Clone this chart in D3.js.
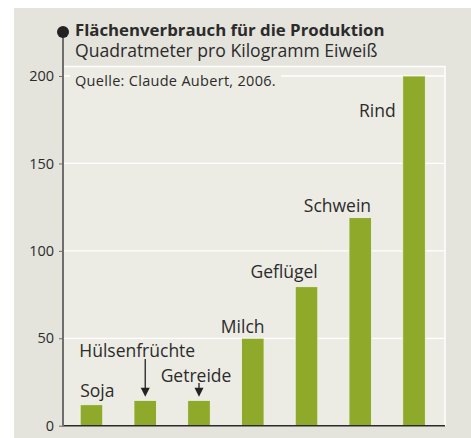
<!DOCTYPE html>
<html><head><meta charset="utf-8">
<script src="https://cdn.jsdelivr.net/npm/d3@7/dist/d3.min.js"></script>
<style>body{margin:0;background:#fff}svg{display:block}text{font-family:"Open Sans",sans-serif;fill:#2b2b2b}</style>
</head><body><svg id="c" width="471" height="438"></svg>
<script>
const categories = ["Soja","Hülsenfrüchte","Getreide","Milch","Geflügel","Schwein","Rind"];
const values = [12, 14.5, 14.5, 50, 79.5, 119, 200];
const yTicks = [0, 50, 100, 150, 200];
const title = "Flächenverbrauch für die Produktion";
const subtitle = "Quadratmeter pro Kilogramm Eiweiß";
const source = "Quelle: Claude Aubert, 2006.";

const svg = d3.select("#c");
const L = 63, R = 445, T = 66.5, B = 425.7;
svg.append("rect").attr("x",14).attr("y",8).attr("width",457).attr("height",430).attr("fill","#e4e3dc");
svg.append("rect").attr("x",L).attr("y",T).attr("width",R-L).attr("height",B-T).attr("fill","#ecebe4");
svg.append("path").attr("d",`M${L},${T}H${R}V${B}`).attr("fill","none").attr("stroke","#fff").attr("stroke-width",1.5);

const y = d3.scaleLinear().domain([0,200]).range([B,76]);
const x = d3.scaleBand().domain(categories).range([64.6,440.9]).paddingInner(0.58).paddingOuter(0.29);

// grid
svg.append("g").selectAll("line").data(yTicks.filter(d=>d>0)).join("line")
  .attr("x1",L).attr("x2",R).attr("y1",d=>y(d)).attr("y2",d=>y(d)).attr("stroke","#fff").attr("stroke-width",1.3);

// source with background box
const src = svg.append("text").attr("x",75).attr("y",85.5).attr("font-size",14.5).attr("letter-spacing",0.3).text(source);
const bb = src.node().getBBox();
svg.insert("rect","text").attr("x",70).attr("y",70).attr("width",bb.width+10).attr("height",20).attr("fill","#ecebe4");

// bars
svg.append("g").selectAll("rect").data(categories).join("rect")
  .attr("x",d=>x(d)).attr("width",x.bandwidth())
  .attr("y",(d,i)=>y(values[i])).attr("height",(d,i)=>B-y(values[i]))
  .attr("fill","#8faa2b").attr("stroke","#f4f4ee").attr("stroke-width",0.8);

// baseline
svg.append("line").attr("x1",L).attr("x2",R).attr("y1",B).attr("y2",B).attr("stroke","#2b2b2b").attr("stroke-width",1.6);

// y axis
const ax = svg.append("g").attr("transform",`translate(${L},0)`).call(d3.axisLeft(y).tickValues(yTicks).tickSize(4).tickPadding(5));
ax.select(".domain").remove();
ax.selectAll(".tick line").attr("stroke","#6e6e6e");
ax.selectAll(".tick text").attr("font-size",14.5).attr("fill","#2b2b2b").style("font-family","'Open Sans',sans-serif");
svg.append("line").attr("x1",L).attr("x2",L).attr("y1",32).attr("y2",B+0.8).attr("stroke","#6e6e6e").attr("stroke-width",2);
svg.append("circle").attr("cx",L).attr("cy",32).attr("r",6).attr("fill","#222");

// titles
svg.append("text").attr("x",75).attr("y",36).attr("font-size",16.8).attr("font-weight","bold").text(title);
svg.append("text").attr("x",75).attr("y",57).attr("font-size",17.6).text(subtitle);

// bar labels: anchor, reference point on bar, x offset, y offset from bar top
const labelPos = [
  {a:"start", ref:"left", dx:0, dy:-8},
  {a:"middle", ref:"mid", dx:-8, dy:-43.6},
  {a:"middle", ref:"mid", dx:-3, dy:-18.6},
  {a:"end", ref:"right", dx:0.5, dy:-5.7},
  {a:"end", ref:"right", dx:0, dy:-8.7},
  {a:"end", ref:"right", dx:-0.5, dy:-5.6},
  {a:"end", ref:"left", dx:-7, dy:40.6}
];
categories.forEach((c,i)=>{
  const p = labelPos[i];
  const xx = p.ref==="left"? x(c): p.ref==="right"? x(c)+x.bandwidth(): x(c)+x.bandwidth()/2;
  svg.append("text").attr("x",xx+p.dx).attr("y",y(values[i])+p.dy).attr("text-anchor",p.a).attr("font-size",17.5).text(c);
});
// arrows
[[1,-41.3],[2,-17.3]].forEach(([i,off])=>{
  const c = categories[i];
  const cx = x(c)+x.bandwidth()/2;
  const top = y(values[i])+off;
  const tip = y(values[i])-3.6;
  svg.append("line").attr("x1",cx).attr("x2",cx).attr("y1",top).attr("y2",tip-7).attr("stroke","#222").attr("stroke-width",1.3);
  svg.append("path").attr("d",`M${cx-4.5},${tip-9}L${cx+4.5},${tip-9}L${cx},${tip}Z`).attr("fill","#222");
});
</script></body></html>
